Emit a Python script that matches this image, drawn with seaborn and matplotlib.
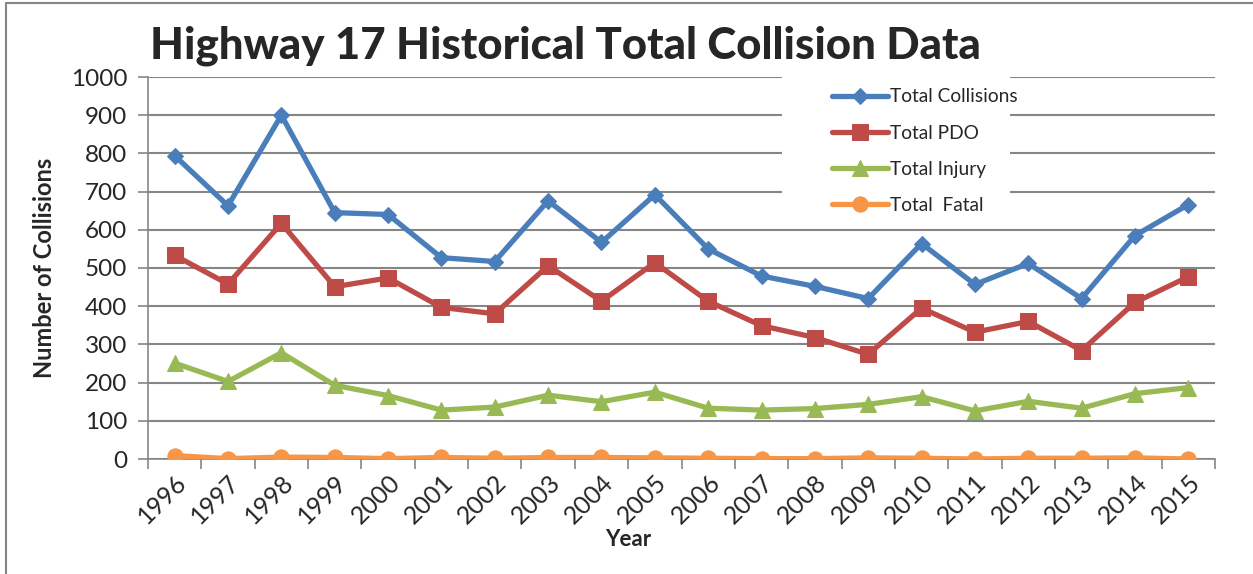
import matplotlib
matplotlib.use("Agg")
import matplotlib.pyplot as plt
import seaborn as sns
import pandas as pd
from matplotlib.lines import Line2D
from matplotlib.patches import Rectangle

years = [str(y) for y in range(1996, 2016)]
total_collisions = [794, 663, 900, 645, 640, 527, 517, 676, 567, 692,
                    550, 479, 452, 420, 564, 457, 512, 420, 585, 666]
total_pdo = [533, 458, 617, 451, 474, 397, 380, 506, 413, 514,
             413, 349, 318, 274, 395, 332, 360, 284, 410, 477]
total_injury = [251, 203, 278, 193, 166, 128, 136, 167, 150, 175,
                133, 128, 132, 143, 163, 126, 151, 133, 171, 187]
total_fatal = [9, 1, 5, 4, 1, 4, 2, 4, 4, 3,
               2, 1, 1, 3, 2, 0, 2, 2, 3, 0]

series_names = ["Total Collisions", "Total PDO", "Total Injury", "Total  Fatal"]
series_values = [total_collisions, total_pdo, total_injury, total_fatal]
colors = ["#4A7EBB", "#BE4B48", "#98B954", "#F79646"]
markers = ["D", "s", "^", "o"]
msizes = [8.5, 11, 11, 11]

sns.set_theme(style="white")
plt.rcParams['font.family'] = ['Lato', 'DejaVu Sans']

rows = []
for name, vals in zip(series_names, series_values):
    for i, (yr, v) in enumerate(zip(years, vals)):
        rows.append({"idx": i, "Year": yr, "Series": name, "Value": v})
df = pd.DataFrame(rows)

fig = plt.figure(figsize=(12.53, 5.74), dpi=100)
ax = fig.add_axes([148/1253, 1-459/574, (1215-148)/1253, (459-77)/574])

for name, c, m, ms in zip(series_names, colors, markers, msizes):
    sub = df[df["Series"] == name]
    sns.lineplot(data=sub, x="idx", y="Value", ax=ax, color=c, marker=m,
                 markersize=ms, markeredgecolor=c, linewidth=3.8, label=name,
                 zorder=3)

ax.set_xlim(-0.5, 19.5)
ax.set_ylim(0, 1000)
ax.set_yticks(range(0, 1001, 100))
ax.set_xticks(range(20))
ax.set_xticklabels(years, rotation=45, ha="right", rotation_mode="anchor",
                   fontsize=18)
ax.set_xticks([i - 0.5 for i in range(21)], minor=True)
ax.tick_params(axis="x", which="major", length=0, pad=8)
ax.tick_params(axis="x", which="minor", length=7, width=1.2, color="#868686",
               direction="out", bottom=True)
ax.tick_params(axis="y", which="major", length=7, width=1.2, color="#868686",
               direction="out", left=True, labelsize=17.5, pad=8)
ax.yaxis.grid(True, color="#868686", linewidth=1.5)
ax.xaxis.grid(False)
ax.set_axisbelow(True)
for s in ["top", "right"]:
    ax.spines[s].set_visible(False)
for s in ["left", "bottom"]:
    ax.spines[s].set_color("#868686")
    ax.spines[s].set_linewidth(1.2)

ax.set_xlabel("Year", fontsize=16, fontweight="bold")
ax.xaxis.set_label_coords((628-148)/1067, -0.183)
ax.set_ylabel("Number of Collisions", fontsize=17, fontweight="bold")
ax.yaxis.set_label_coords(-(148-56)/1067, 0.5)

# white legend background box covering the gridlines
ax.add_patch(Rectangle((782/1253, 1-212/574), (1010-782)/1253, (212-70)/574,
                       transform=fig.transFigure, facecolor="white",
                       edgecolor="none", zorder=2))

leg = ax.legend(loc="upper left", bbox_to_anchor=(819/1253, 1-75/574),
                bbox_transform=fig.transFigure, frameon=False, fontsize=13.8,
                handlelength=2.9, labelspacing=1.0, borderpad=0.2,
                handletextpad=0.12)
leg.set_zorder(5)

fig.text(565/1253, 1-46/574, "Highway 17 Historical Total Collision Data",
         ha="center", va="center", fontsize=31.5, fontweight="black")

fig.add_artist(Line2D([6/1253, 6/1253], [0, 1-3/574], color="#868686",
                      linewidth=1.5, transform=fig.transFigure))
fig.add_artist(Line2D([6/1253, 1], [1-3/574, 1-3/574], color="#868686",
                      linewidth=1.5, transform=fig.transFigure))

fig.savefig("out.png", dpi=100)
